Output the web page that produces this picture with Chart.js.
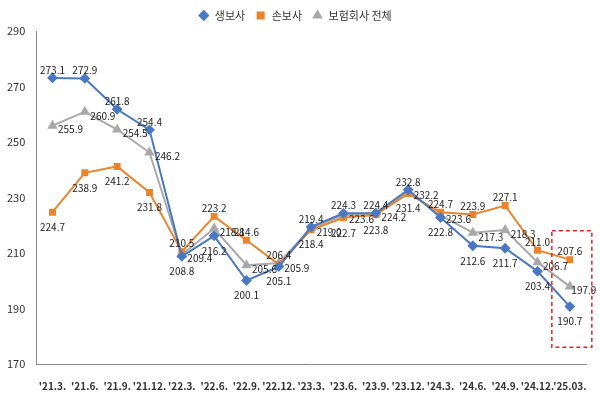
<!DOCTYPE html>
<html><head><meta charset="utf-8">
<script src="https://cdn.jsdelivr.net/npm/chart.js@4"></script>
<style>body{margin:0;background:#fff}#wrap{width:600px;height:400px}</style>
</head><body><div id="wrap"><canvas id="c"></canvas></div>
<script>
const labels = ["'21.3.","'21.6.","'21.9.","'21.12.","'22.3.","'22.6.","'22.9.","'22.12.","'23.3.","'23.6.","'23.9.","'23.12.","'24.3.","'24.6.","'24.9.","'24.12.","'25.03."];
const life = [273.1,272.9,261.8,254.4,208.8,216.2,200.1,205.1,219.4,224.3,224.4,232.8,222.8,212.6,211.7,203.4,190.7];
const nonLife = [224.7,238.9,241.2,231.8,210.5,223.2,214.6,205.9,218.4,222.7,223.8,231.4,224.7,223.9,227.1,211.0,207.6];
const total = [255.9,260.9,254.5,246.2,209.4,218.8,205.6,206.4,219.0,223.6,224.2,232.2,223.6,217.3,218.3,206.7,197.9];
const yTicks = [170,190,210,230,250,270,290];

const labelPlugin = {
  id: 'lbl',
  afterDatasetsDraw(chart) {
    const ctx = chart.ctx;
    ctx.save();
    ctx.font = '10px "Noto Sans CJK KR", sans-serif';
    ctx.fillStyle = '#222';
    ctx.textAlign = 'center';
    chart.data.datasets.forEach((ds, di) => {
      const meta = chart.getDatasetMeta(di);
      meta.data.forEach((p, i) => {
        const others = chart.data.datasets.map(d => d.data[i]);
        const v = ds.data[i];
        const max = Math.max(...others), min = Math.min(...others);
        let dy = v === max ? -8 : (v === min ? 15 : 4);
        let dx = (v !== max && v !== min) ? 18 : 0;
        if (i === labels.length - 1 && dx) dx = 14;
        ctx.fillText(v.toFixed(1), p.x + dx, p.y + dy);
      });
    });
    // red dashed box around last point
    const x = chart.scales.x.getPixelForValue(labels.length - 1);
    const y = chart.scales.y;
    ctx.strokeStyle = '#e0242a';
    ctx.lineWidth = 1.5;
    ctx.setLineDash([4, 3]);
    ctx.strokeRect(x - 18, y.getPixelForValue(218), 40, y.getPixelForValue(176) - y.getPixelForValue(218));
    ctx.restore();
  }
};

new Chart(document.getElementById('c'), {
  type: 'line',
  data: {
    labels: labels,
    datasets: [
      {label: '생보사', data: life, borderColor: '#4a78c2', backgroundColor: '#4a78c2', pointStyle: 'rectRot', pointRadius: 4, borderWidth: 2},
      {label: '손보사', data: nonLife, borderColor: '#e9852f', backgroundColor: '#e9852f', pointStyle: 'rect', pointRadius: 3.5, borderWidth: 2},
      {label: '보험회사 전체', data: total, borderColor: '#a9a9a9', backgroundColor: '#a9a9a9', pointStyle: 'triangle', pointRadius: 4, borderWidth: 2}
    ]
  },
  options: {
    responsive: true, maintainAspectRatio: false, animation: false,
    layout: {padding: {left: 4, right: 14, top: 0, bottom: 0}},
    plugins: {
      legend: {position: 'top', labels: {usePointStyle: true, boxHeight: 6, font: {size: 11, family: '"Noto Sans CJK KR"'}, color: '#333'}},
      tooltip: {enabled: false}
    },
    scales: {
      y: {min: 170, max: 290, afterBuildTicks: s => { s.ticks = yTicks.map(v => ({value: v})); },
          grid: {display: false}, border: {color: '#888'},
          ticks: {font: {size: 11, family: '"Noto Sans CJK KR"'}, color: '#333'}},
      x: {grid: {display: false}, border: {color: '#888'}, offset: true,
          ticks: {maxRotation: 0, autoSkip: false, padding: 8, font: {size: 10, family: '"Noto Sans CJK KR"', weight: 'bold'}, color: '#333'}}
    }
  },
  plugins: [labelPlugin]
});
</script></body></html>
